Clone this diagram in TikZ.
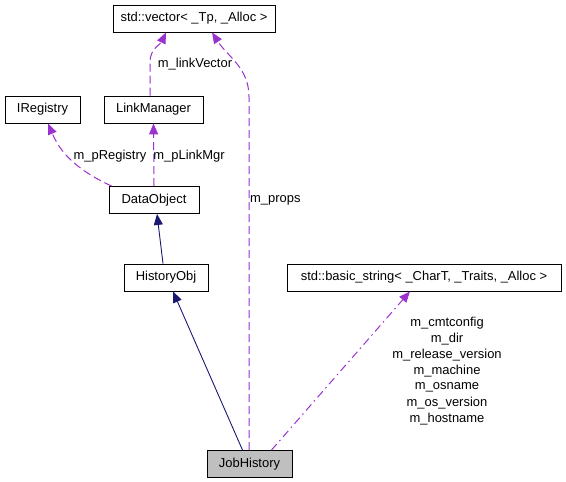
\documentclass[tikz,border=0pt]{standalone}
\usepackage{fontspec}
\setmainfont{Liberation Sans}
\usetikzlibrary{arrows.meta}

\definecolor{orchid}{HTML}{9A32CD}
\definecolor{navyline}{HTML}{191970}

\tikzset{
    cls/.style={draw, line width=0.9bp, minimum height=27bp, inner sep=0pt, font=\fontsize{13}{15}\selectfont},
    lbl/.style={inner sep=0pt, font=\fontsize{13}{15}\selectfont},
    inh/.style={draw=navyline, line width=0.9bp, -{Triangle[length=11bp,width=9bp]}},
    use/.style={draw=orchid, line width=1bp, dash pattern=on 8bp off 4bp, -{Triangle[length=11bp,width=9bp]}},
    usedot/.style={use, dash pattern=on 8bp off 4bp on 1.5bp off 4bp}
}

\begin{document}
\begin{tikzpicture}[x=1bp, y=-1bp]

    \useasboundingbox (0, 0) rectangle (566, 482);

    \node[cls, minimum width=162bp] (vec) at (194, 18.5) {std::vector< \_Tp, \_Alloc >};
    \node[cls, minimum width=75bp] (ireg) at (42.5, 109.5) {IRegistry};
    \node[cls, minimum width=99bp] (lmgr) at (153.5, 109.5) {LinkManager};
    \node[cls, minimum width=90bp] (dobj) at (154, 200) {DataObject};
    \node[cls, minimum width=84bp] (hobj) at (166, 277.5) {HistoryObj};
    \node[cls, minimum width=274bp] (bstr) at (424, 277.5) {std::basic\_string< \_CharT, \_Traits, \_Alloc >};
    \node[cls, minimum width=85bp, fill=black!25] (jhist) at (249.5, 464) {JobHistory};

    \draw[inh] ([xshift=-3bp]hobj.north) -- ([xshift=3bp]dobj.south);
    \draw[inh] ([xshift=-7bp]jhist.north) -- ([xshift=7bp]hobj.south);

    \draw[use] (dobj.north) -- (lmgr.south);
    \draw[use] ([xshift=3bp]dobj.north west) to[out=155, in=-67] ([xshift=5.5bp]ireg.south);
    \draw[use] ([xshift=-3.5bp]lmgr.north) -- ([xshift=-3.5bp]lmgr.north |- 0, 62) to[out=90, in=-115] ([xshift=-28bp]vec.south);
    \draw[use] ([xshift=-0.5bp]jhist.north) -- ([xshift=-0.5bp]jhist.north |- 0, 97) to[out=90, in=-57] ([xshift=18bp]vec.south);
    \draw[usedot] ([xshift=22bp]jhist.north) -- ([xshift=-14bp]bstr.south);

    \node[lbl] (lvec) at (195, 64) {m\_linkVector};
    \node[lbl] (lreg) at (110, 156) {m\_pRegistry};
    \node[lbl] (lmgrlbl) at (189, 156) {m\_pLinkMgr};
    \node[lbl, anchor=west] (lprops) at (250, 200) {m\_props};

    \foreach \txt/\nm [count=\i] in {m\_cmtconfig/lcmt, m\_dir/ldir, m\_release\_version/lrel, m\_machine/lmach, m\_osname/losn, m\_os\_version/losv, m\_hostname/lhost}
        \node[lbl] (\nm) at (447, {307 + 16*\i}) {\txt};

\end{tikzpicture}
\end{document}
